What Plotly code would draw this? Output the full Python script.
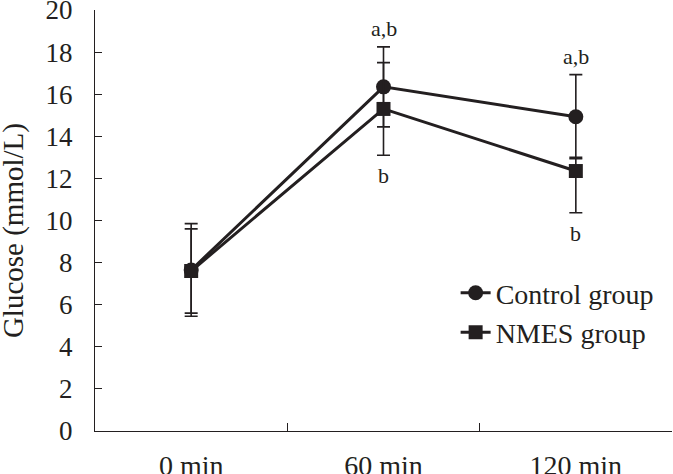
import plotly.graph_objects as go

categories = ["0 min", "60 min", "120 min"]
control_mean = [7.65, 16.35, 14.93]
control_sd = [2.2, 1.9, 2.0]
nmes_mean = [7.6, 15.3, 12.35]
nmes_sd_plus = [2.0, 2.2, 0.65]
nmes_sd_minus = [2.0, 2.2, 1.98]
annot_top = ["", "a,b", "a,b"]
annot_bottom = ["", "b", "b"]
y_ticks = [0, 2, 4, 6, 8, 10, 12, 14, 16, 18, 20]
y_title = "Glucose (mmol/L)"

INK = "#231f20"
FONT = "Liberation Serif"

fig = go.Figure()
fig.add_trace(go.Scatter(
    x=categories, y=control_mean, name="Control group", mode="lines+markers",
    line=dict(color=INK, width=3),
    marker=dict(symbol="circle", size=15, color=INK),
    error_y=dict(type="data", array=control_sd, color=INK, thickness=1.6, width=6.5),
))
fig.add_trace(go.Scatter(
    x=categories, y=nmes_mean, name="NMES group", mode="lines+markers",
    line=dict(color=INK, width=3),
    marker=dict(symbol="square", size=14, color=INK),
    error_y=dict(type="data", array=nmes_sd_plus, arrayminus=nmes_sd_minus,
                 color=INK, thickness=1.6, width=6.5),
))

for i, c in enumerate(categories):
    if annot_top[i]:
        fig.add_annotation(x=c, y=control_mean[i] + control_sd[i], text=annot_top[i],
                           showarrow=False, yanchor="bottom", yshift=4,
                           font=dict(family=FONT, size=22, color=INK))
    if annot_bottom[i]:
        fig.add_annotation(x=c, y=nmes_mean[i] - nmes_sd_minus[i], text=annot_bottom[i],
                           showarrow=False, yanchor="top", yshift=-6,
                           font=dict(family=FONT, size=22, color=INK))

# y-axis title as rotated text
fig.add_annotation(x=-0.142, xref="paper", xanchor="center", y=0.475, yref="paper",
                   yanchor="middle", text=y_title, showarrow=False, textangle=-90,
                   font=dict(family=FONT, size=29, color=INK))

fig.update_layout(
    width=673, height=474,
    margin=dict(l=95, r=1, t=10, b=43, autoexpand=False),
    paper_bgcolor="white", plot_bgcolor="white",
    font=dict(family=FONT, color=INK),
    legend=dict(x=0.625, y=0.387, xanchor="left", yanchor="top",
                font=dict(family=FONT, size=28, color=INK),
                bgcolor="rgba(0,0,0,0)", tracegroupgap=0),
    xaxis=dict(type="category", range=[-0.5, 2.5], tickson="boundaries",
               ticks="inside", ticklen=8, tickwidth=1.3, tickcolor=INK,
               showline=True, linecolor=INK, linewidth=1.3, showgrid=False,
               zeroline=False, automargin=False, ticklabelstandoff=9,
               ticklabeloverflow="allow",
               tickfont=dict(family=FONT, size=28, color=INK)),
    yaxis=dict(range=[0, 20], tickvals=y_ticks,
               ticks="inside", ticklen=7, tickwidth=1.3,
               tickcolor=INK, showline=True, linecolor=INK, linewidth=1.3,
               showgrid=False, zeroline=False, ticklabelstandoff=16, automargin=False,
               ticklabeloverflow="allow",
               tickfont=dict(family=FONT, size=27, color=INK)),
)

fig.write_html("out.html", config={"displayModeBar": False},
               post_script="document.body.style.margin='0';")
